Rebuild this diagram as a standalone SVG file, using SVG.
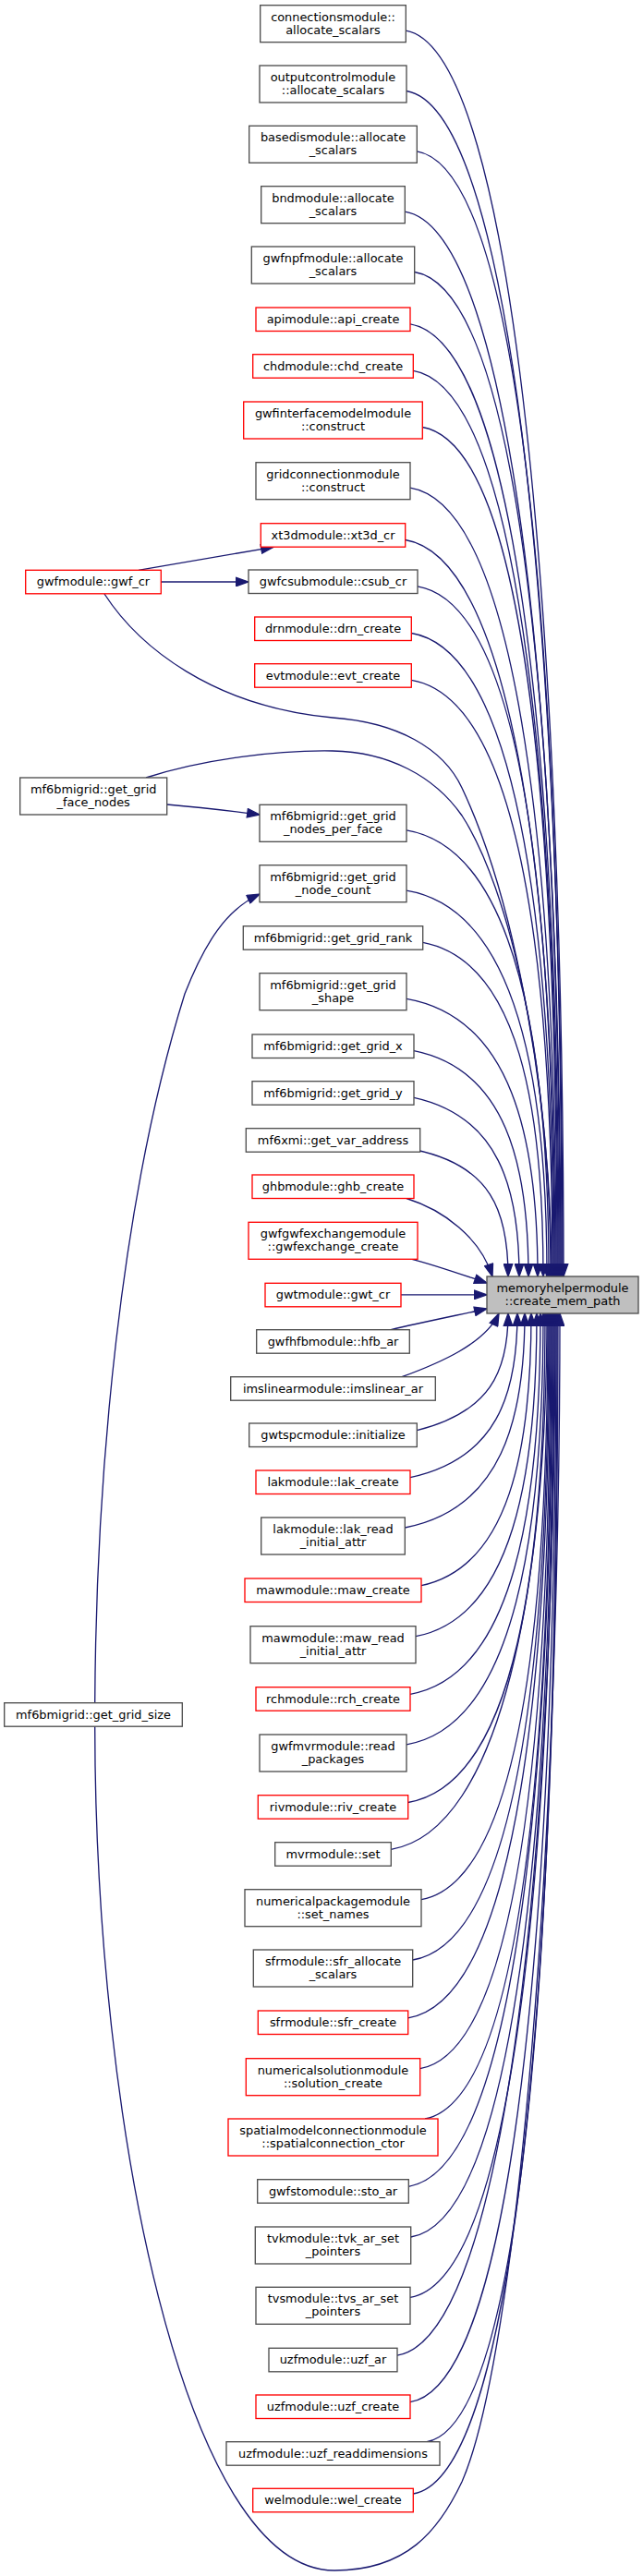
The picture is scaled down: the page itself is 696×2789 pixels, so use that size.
<svg xmlns="http://www.w3.org/2000/svg" width="696" height="2789" viewBox="0 0 696 2789">
<defs>
<style>
rect{fill:#fff;stroke:#4d4d4d;stroke-width:1.33}
.r rect{stroke:#ff0000}
.t rect{fill:#bfbfbf;stroke:#4d4d4d}
text{font-family:"DejaVu Sans",sans-serif;font-size:12.9px;text-anchor:middle;fill:#000}
.e path{fill:none;stroke:#191970;stroke-width:1.33;marker-end:url(#a)}
</style>
<marker id="a" markerUnits="userSpaceOnUse" markerWidth="15" markerHeight="11" viewBox="-1 -1 15 11" refX="13.3" refY="4.67" orient="auto"><path d="M0,0 L13.3,4.67 L0,9.33 z" fill="#191970" stroke="#191970" stroke-width="1.33"/></marker>
</defs>
<rect x="0" y="0" width="696" height="2789" style="fill:#fff;stroke:none"/>
<g id="edges" class="e">
<path d="M439.3,33.2 C559.3,53.2 610,707.6 610,1382"/>
<path d="M440,98.5 C560,118.5 609,740.3 609,1382"/>
<path d="M451.3,163.8 C571.3,183.8 608,772.9 608,1382"/>
<path d="M438.3,229.2 C558.3,249.2 607,805.6 607,1382"/>
<path d="M448.7,294.5 C568.7,314.5 606,838.3 606,1382"/>
<path d="M444,350.8 C564,370.8 605,866.4 605,1382"/>
<path d="M447.3,401.3 C567.3,421.3 604,891.7 604,1382"/>
<path d="M457.3,462.5 C573.9,482.5 603,922.3 603,1382"/>
<path d="M444,528.2 C564,548.2 602,955.1 602,1382"/>
<path d="M438.7,584.5 C558.7,604.5 601,983.3 601,1382"/>
<path d="M452,634.8 C570.4,654.8 600,1008.4 600,1382"/>
<path d="M445.3,685.5 C565.3,705.5 599,1033.8 599,1382"/>
<path d="M445.3,736.3 C565.3,756.3 598,1059.2 598,1382"/>
<path d="M113,643 C150,700 230,765 360,777 C430,782 480,810 500,853 C560,980 597,1200 597,1382"/>
<path d="M158,842 C220,822 300,812 360,813 C420,814 470,840 500,883 C550,960 596,1150 596,1382"/>
<path d="M440,898.8 C560,918.8 594,1140.4 594,1382"/>
<path d="M440,964.2 C560,984.2 592,1173.1 592,1382"/>
<path d="M457.7,1020.3 C561.9,1040.3 588,1201.2 588,1382"/>
<path d="M440,1081.3 C553.6,1101.3 582,1231.7 582,1382"/>
<path d="M448,1137.7 C547.2,1157.7 572,1259.9 572,1382"/>
<path d="M448,1188.3 C539.2,1208.3 562,1285.2 562,1382"/>
<path d="M450,1245 C530.9,1262 550,1310.6 550,1382"/>
<path d="M440,1297.5 C480,1310 520,1340 533,1382"/>
<path d="M446,1363.3 C472,1370 500,1380 527,1389"/>
<path d="M434,1401.8 L527,1401.8"/>
<path d="M423,1439.7 C455,1432 495,1424 527,1417"/>
<path d="M435,1490.7 C475,1476 525,1455 540,1422"/>
<path d="M451.3,1548.7 C530.3,1528.7 550,1485.4 550,1422"/>
<path d="M444,1599.7 C536.8,1579.7 560,1510.9 560,1422"/>
<path d="M438.3,1654 C542.1,1634 568,1538 568,1422"/>
<path d="M456,1716.7 C551.2,1696.7 575,1569.4 575,1422"/>
<path d="M450,1771.7 C554.8,1751.7 581,1596.9 581,1422"/>
<path d="M444,1834.3 C556.8,1814.3 585,1628.2 585,1422"/>
<path d="M440,1888.8 C558.4,1868.8 588,1655.4 588,1422"/>
<path d="M441.7,1951.5 C560.3,1931.5 590,1686.8 590,1422"/>
<path d="M423.3,2002.3 C543.3,1982.3 592,1712.2 592,1422"/>
<path d="M456,2056.7 C565.6,2036.7 593,1739.4 593,1422"/>
<path d="M446.7,2122 C564.5,2102 594,1772 594,1422"/>
<path d="M441.7,2184.8 C561.7,2164.8 595,1803.4 595,1422"/>
<path d="M454.7,2239.7 C567.7,2219.7 596,1830.9 596,1422"/>
<path d="M460,2294 C569.6,2274 597,1858 597,1422"/>
<path d="M442.3,2367.3 C562.3,2347.3 598,1894.7 598,1422"/>
<path d="M444.7,2422 C564.7,2402 599,1922 599,1422"/>
<path d="M444,2487.3 C564,2467.3 600,1954.7 600,1422"/>
<path d="M430,2550.2 C550,2530.2 601,1986.1 601,1422"/>
<path d="M444,2600.7 C564,2580.7 602,2011.4 602,1422"/>
<path d="M462,2643.7 C574.8,2623.7 603,2032.9 603,1422"/>
<path d="M447.3,2700 C567.3,2680 604,2061 604,1422"/>
<path d="M102.7,1869.3 C103,2300 200,2783 362,2783 C440,2783 475,2740 500,2687 C560,2550 606,2000 606,1422"/>
<path d="M150,617.3 C200,609 250,600 296,592.3"/>
<path d="M174.3,630 L269,630"/>
<path d="M180.7,871 C215,874 250,878 281,882"/>
<path d="M102.7,1843.7 C104,1600 130,1300 200,1076 C222,1020 245,985 281,968"/>
</g>
<g id="target" class="t"><rect x="527" y="1382" width="164" height="40"/><text x="609" y="1399">memoryhelpermodule</text><text x="609" y="1413">::create_mem_path</text></g>
<g id="gwf_cr" class="r"><rect x="27.7" y="617.3" width="146.6" height="25.5"/><text x="101" y="634.3">gwfmodule::gwf_cr</text></g>
<g id="face_nodes"><rect x="21.7" y="842" width="159" height="40"/><text x="101.2" y="859">mf6bmigrid::get_grid</text><text x="101.2" y="873">_face_nodes</text></g>
<g id="grid_size"><rect x="4.7" y="1843.7" width="192.6" height="25.5"/><text x="101" y="1860.7">mf6bmigrid::get_grid_size</text></g>
<g id="n1"><rect x="281.7" y="5.7" width="157.6" height="40"/><text x="360.5" y="22.7">connectionsmodule::</text><text x="360.5" y="36.7">allocate_scalars</text></g>
<g id="n2"><rect x="281" y="71" width="159" height="40"/><text x="360.5" y="88">outputcontrolmodule</text><text x="360.5" y="102">::allocate_scalars</text></g>
<g id="n3"><rect x="269.7" y="136.3" width="181.6" height="40"/><text x="360.5" y="153.3">basedismodule::allocate</text><text x="360.5" y="167.3">_scalars</text></g>
<g id="n4"><rect x="282.7" y="201.7" width="155.6" height="40"/><text x="360.5" y="218.7">bndmodule::allocate</text><text x="360.5" y="232.7">_scalars</text></g>
<g id="n5"><rect x="272.3" y="267" width="176.4" height="40"/><text x="360.5" y="284">gwfnpfmodule::allocate</text><text x="360.5" y="298">_scalars</text></g>
<g id="n6" class="r"><rect x="277" y="333" width="167" height="25.5"/><text x="360.5" y="350">apimodule::api_create</text></g>
<g id="n7" class="r"><rect x="273.7" y="383.7" width="173.6" height="25.5"/><text x="360.5" y="400.7">chdmodule::chd_create</text></g>
<g id="n8" class="r"><rect x="263.7" y="435" width="193.6" height="40"/><text x="360.5" y="452">gwfinterfacemodelmodule</text><text x="360.5" y="466">::construct</text></g>
<g id="n9"><rect x="277" y="500.7" width="167" height="40"/><text x="360.5" y="517.7">gridconnectionmodule</text><text x="360.5" y="531.7">::construct</text></g>
<g id="n10" class="r"><rect x="282.3" y="566.7" width="156.4" height="25.5"/><text x="360.5" y="583.7">xt3dmodule::xt3d_cr</text></g>
<g id="n11"><rect x="269" y="617" width="183" height="25.5"/><text x="360.5" y="634">gwfcsubmodule::csub_cr</text></g>
<g id="n12" class="r"><rect x="275.7" y="668" width="169.6" height="25.5"/><text x="360.5" y="685">drnmodule::drn_create</text></g>
<g id="n13" class="r"><rect x="275.7" y="718.7" width="169.6" height="25.5"/><text x="360.5" y="735.7">evtmodule::evt_create</text></g>
<g id="n14"><rect x="281" y="871.3" width="159" height="40"/><text x="360.5" y="888.3">mf6bmigrid::get_grid</text><text x="360.5" y="902.3">_nodes_per_face</text></g>
<g id="n15"><rect x="281" y="936.7" width="159" height="40"/><text x="360.5" y="953.7">mf6bmigrid::get_grid</text><text x="360.5" y="967.7">_node_count</text></g>
<g id="n16"><rect x="263.3" y="1002.7" width="194.4" height="25.5"/><text x="360.5" y="1019.7">mf6bmigrid::get_grid_rank</text></g>
<g id="n17"><rect x="281" y="1053.7" width="159" height="40"/><text x="360.5" y="1070.7">mf6bmigrid::get_grid</text><text x="360.5" y="1084.7">_shape</text></g>
<g id="n18"><rect x="273" y="1120" width="175" height="25.5"/><text x="360.5" y="1137">mf6bmigrid::get_grid_x</text></g>
<g id="n19"><rect x="273" y="1170.7" width="175" height="25.5"/><text x="360.5" y="1187.7">mf6bmigrid::get_grid_y</text></g>
<g id="n20"><rect x="266.3" y="1221.7" width="188.4" height="25.5"/><text x="360.5" y="1238.7">mf6xmi::get_var_address</text></g>
<g id="n21" class="r"><rect x="273" y="1272" width="175" height="25.5"/><text x="360.5" y="1289">ghbmodule::ghb_create</text></g>
<g id="n22" class="r"><rect x="269" y="1323.3" width="183" height="40"/><text x="360.5" y="1340.3">gwfgwfexchangemodule</text><text x="360.5" y="1354.3">::gwfexchange_create</text></g>
<g id="n23" class="r"><rect x="287" y="1389.3" width="147" height="25.5"/><text x="360.5" y="1406.3">gwtmodule::gwt_cr</text></g>
<g id="n24"><rect x="277.7" y="1439.7" width="165.6" height="25.5"/><text x="360.5" y="1456.7">gwfhfbmodule::hfb_ar</text></g>
<g id="n25"><rect x="249.7" y="1490.7" width="221.6" height="25.5"/><text x="360.5" y="1507.7">imslinearmodule::imslinear_ar</text></g>
<g id="n26"><rect x="269.7" y="1541" width="181.6" height="25.5"/><text x="360.5" y="1558">gwtspcmodule::initialize</text></g>
<g id="n27" class="r"><rect x="277" y="1592" width="167" height="25.5"/><text x="360.5" y="1609">lakmodule::lak_create</text></g>
<g id="n28"><rect x="282.7" y="1643" width="155.6" height="40"/><text x="360.5" y="1660">lakmodule::lak_read</text><text x="360.5" y="1674">_initial_attr</text></g>
<g id="n29" class="r"><rect x="265" y="1709" width="191" height="25.5"/><text x="360.5" y="1726">mawmodule::maw_create</text></g>
<g id="n30"><rect x="271" y="1760.7" width="179" height="40"/><text x="360.5" y="1777.7">mawmodule::maw_read</text><text x="360.5" y="1791.7">_initial_attr</text></g>
<g id="n31" class="r"><rect x="277" y="1826.7" width="167" height="25.5"/><text x="360.5" y="1843.7">rchmodule::rch_create</text></g>
<g id="n32"><rect x="281" y="1878" width="159" height="40"/><text x="360.5" y="1895">gwfmvrmodule::read</text><text x="360.5" y="1909">_packages</text></g>
<g id="n33" class="r"><rect x="279.3" y="1943.7" width="162.4" height="25.5"/><text x="360.5" y="1960.7">rivmodule::riv_create</text></g>
<g id="n34"><rect x="297.7" y="1994.7" width="125.6" height="25.5"/><text x="360.5" y="2011.7">mvrmodule::set</text></g>
<g id="n35"><rect x="265" y="2045.7" width="191" height="40"/><text x="360.5" y="2062.7">numericalpackagemodule</text><text x="360.5" y="2076.7">::set_names</text></g>
<g id="n36"><rect x="274.3" y="2111" width="172.4" height="40"/><text x="360.5" y="2128">sfrmodule::sfr_allocate</text><text x="360.5" y="2142">_scalars</text></g>
<g id="n37" class="r"><rect x="279.3" y="2177" width="162.4" height="25.5"/><text x="360.5" y="2194">sfrmodule::sfr_create</text></g>
<g id="n38" class="r"><rect x="266.3" y="2228.7" width="188.4" height="40"/><text x="360.5" y="2245.7">numericalsolutionmodule</text><text x="360.5" y="2259.7">::solution_create</text></g>
<g id="n39" class="r"><rect x="247" y="2294" width="227" height="40"/><text x="360.5" y="2311">spatialmodelconnectionmodule</text><text x="360.5" y="2325">::spatialconnection_ctor</text></g>
<g id="n40"><rect x="278.7" y="2359.7" width="163.6" height="25.5"/><text x="360.5" y="2376.7">gwfstomodule::sto_ar</text></g>
<g id="n41"><rect x="276.3" y="2411" width="168.4" height="40"/><text x="360.5" y="2428">tvkmodule::tvk_ar_set</text><text x="360.5" y="2442">_pointers</text></g>
<g id="n42"><rect x="277" y="2476.3" width="167" height="40"/><text x="360.5" y="2493.3">tvsmodule::tvs_ar_set</text><text x="360.5" y="2507.3">_pointers</text></g>
<g id="n43"><rect x="291" y="2542.3" width="139" height="25.5"/><text x="360.5" y="2559.3">uzfmodule::uzf_ar</text></g>
<g id="n44" class="r"><rect x="277" y="2593" width="167" height="25.5"/><text x="360.5" y="2610">uzfmodule::uzf_create</text></g>
<g id="n45"><rect x="245" y="2643.7" width="231" height="25.5"/><text x="360.5" y="2660.7">uzfmodule::uzf_readdimensions</text></g>
<g id="n46" class="r"><rect x="273.7" y="2694.3" width="173.6" height="25.5"/><text x="360.5" y="2711.3">welmodule::wel_create</text></g>
</svg>
